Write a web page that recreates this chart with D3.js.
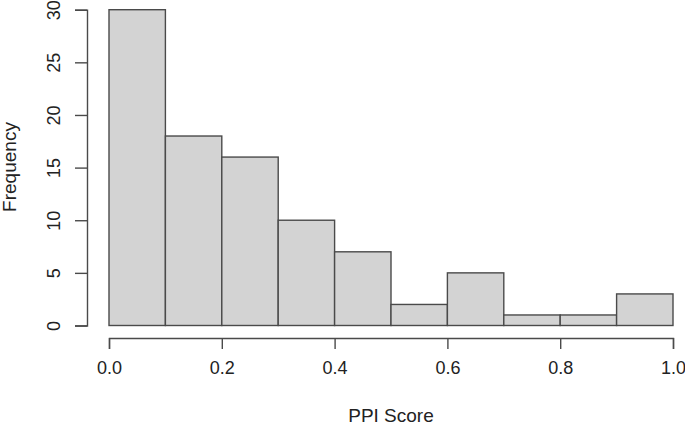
<!DOCTYPE html>
<html>
<head>
<meta charset="utf-8">
<script src="https://cdn.jsdelivr.net/npm/d3@7"></script>
<style>
  body { margin: 0; background: #fff; }
  text { font-family: "Liberation Sans", Arial, sans-serif; fill: #222; }
</style>
</head>
<body>
<div class="canvas"></div>
<script>
// histogram bins (breaks) and counts
var breaks = [0, 0.1, 0.2, 0.3, 0.4, 0.5, 0.6, 0.7, 0.8, 0.9, 1.0];
var counts = [30, 18, 16, 10, 7, 2, 5, 1, 1, 3];
var xTicks = [0, 0.2, 0.4, 0.6, 0.8, 1.0];
var yTicks = [0, 5, 10, 15, 20, 25, 30];

var svg = d3.select(".canvas").append("svg").attr("width", 685).attr("height", 425);

var x = d3.scaleLinear().domain([0, 1]).range([109, 673]);
var y = d3.scaleLinear().domain([0, 30]).range([325.5, 9.7]);

var bins = counts.map(function (c, i) { return { x0: breaks[i], x1: breaks[i + 1], n: c }; });

svg.append("g").selectAll("rect")
    .data(bins)
    .enter().append("rect")
    .attr("x", d => x(d.x0))
    .attr("y", d => y(d.n))
    .attr("width", d => x(d.x1) - x(d.x0))
    .attr("height", d => y(0) - y(d.n))
    .attr("fill", "#d3d3d3")
    .attr("stroke", "#4a4a4a")
    .attr("stroke-width", 1.4);

// x axis
var xAxis = svg.append("g").attr("transform", "translate(0,338)")
    .call(d3.axisBottom(x).tickValues(xTicks).tickFormat(d3.format(".1f")).tickSizeOuter(0).tickSize(11).tickPadding(12));

// y axis
var yAxis = svg.append("g").attr("transform", "translate(87,0)")
    .call(d3.axisLeft(y).tickValues(yTicks).tickSizeOuter(0).tickSize(12).tickPadding(6));

[xAxis, yAxis].forEach(function (a) {
    a.select(".domain").attr("stroke", "#4a4a4a").attr("stroke-width", 1.4);
    a.selectAll(".tick line").attr("stroke", "#4a4a4a").attr("stroke-width", 1.4);
    a.selectAll(".tick text").attr("font-size", "18px").attr("fill", "#222")
        .attr("font-family", "'Liberation Sans', Arial, sans-serif");
});

yAxis.selectAll(".tick text")
    .attr("x", 0)
    .attr("dy", "0")
    .attr("transform", "translate(-27,0) rotate(-90)")
    .attr("text-anchor", "middle");

svg.append("text")
    .attr("x", 391)
    .attr("y", 422)
    .attr("text-anchor", "middle")
    .attr("font-size", "19px")
    .text("PPI Score");

svg.append("text")
    .attr("transform", "translate(16,167) rotate(-90)")
    .attr("text-anchor", "middle")
    .attr("font-size", "19px")
    .text("Frequency");
</script>
</body>
</html>
